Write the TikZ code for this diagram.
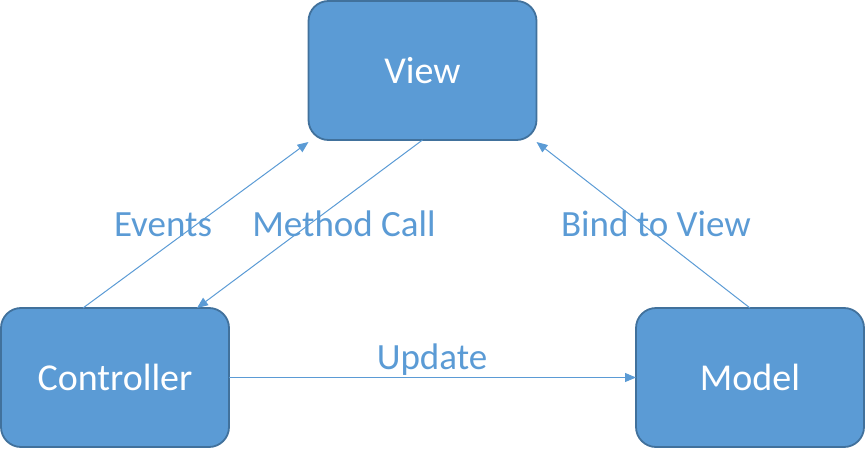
\documentclass[tikz,border=0pt]{standalone}
\usepackage{fontspec}
\setmainfont{Carlito}
\usetikzlibrary{arrows.meta}
\definecolor{boxfill}{HTML}{5B9BD5}
\definecolor{boxline}{HTML}{41719C}
\tikzstyle{base}=[x=1pt, y=-1pt, inner sep=0pt, outer sep=0pt]
\tikzstyle{block}=[draw=boxline, fill=boxfill, line width=1.8pt, rounded corners=20pt,
    minimum width=228pt, minimum height=139pt, text=white, font=\fontsize{38}{45}\selectfont]
\tikzstyle{link}=[draw=boxfill, line width=1pt, -{Triangle[length=11pt,width=9pt]}]
\tikzstyle{label}=[text=boxfill, anchor=base, font=\fontsize{37}{44}\selectfont]

\begin{document}
\begin{tikzpicture}[base]
        \useasboundingbox (0,0) rectangle (866,449);
        \node[block] (view) at (422.5,70.5) {View};
        \node[block] (controller) at (115,377.5) {Controller};
        \node[block] (model) at (750,377.5) {Model};
        \draw[link] ([xshift=82pt]controller.north west) -- ([yshift=-2pt]view.south west);
        \draw[link] (view.south) -- ([xshift=-32pt]controller.north east);
        \draw[link] (model.north) -- ([yshift=-2pt]view.south east);
        \draw[link] (controller.east) -- (model.west);
        \node[label] (events) at (163,236) {Events};
        \node[label] (method) at (344,236) {Method Call};
        \node[label] (bind) at (656,236) {Bind to View};
        \node[label] (update) at (432,369) {Update};
    \end{tikzpicture}
\end{document}
